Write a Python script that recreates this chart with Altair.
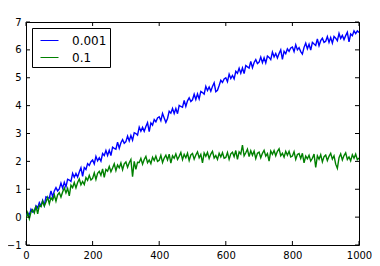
import altair as alt
import pandas as pd

steps = list(range(0, 1001, 5))

blue_vals = [
    0.02, 0.15, 0.08, 0.28, 0.18, 0.22, 0.41, 0.33, 0.52, 0.40,
    0.60, 0.42, 0.73, 0.70, 0.68, 0.94, 0.73, 0.94, 1.06, 0.94,
    1.01, 1.22, 1.04, 1.25, 1.08, 1.36, 1.33, 1.28, 1.57, 1.43,
    1.57, 1.44, 1.62, 1.77, 1.46, 1.78, 1.71, 1.92, 1.85, 1.99,
    2.05, 1.91, 2.18, 2.02, 2.13, 2.01, 2.28, 2.21, 2.39, 2.21,
    2.40, 2.21, 2.51, 2.47, 2.44, 2.69, 2.47, 2.67, 2.78, 2.65,
    2.71, 2.91, 2.73, 2.93, 2.76, 3.03, 3.00, 2.94, 3.23, 3.08,
    3.22, 3.08, 3.25, 3.39, 3.07, 3.38, 3.30, 3.50, 3.42, 3.56,
    3.60, 3.46, 3.72, 3.56, 3.40, 3.54, 3.80, 3.73, 3.90, 3.72,
    3.90, 3.71, 4.01, 3.97, 3.94, 4.19, 3.97, 4.17, 4.28, 4.15,
    4.21, 4.41, 4.22, 4.42, 4.24, 4.51, 4.47, 4.41, 4.69, 4.54,
    4.67, 4.52, 4.69, 4.82, 4.50, 4.55, 4.72, 4.91, 4.83, 4.96,
    5.00, 4.86, 5.13, 4.97, 5.08, 4.96, 5.23, 5.16, 5.34, 5.16,
    5.35, 5.15, 5.44, 5.39, 5.35, 5.59, 5.36, 5.55, 5.65, 5.51,
    5.56, 5.74, 5.54, 5.72, 5.53, 5.78, 5.73, 5.65, 5.92, 5.75,
    5.87, 5.71, 5.87, 6.00, 5.66, 5.95, 5.86, 6.04, 5.95, 6.07,
    6.10, 5.94, 6.18, 6.00, 6.08, 5.94, 5.85, 6.09, 6.24, 6.04,
    6.20, 5.99, 6.27, 6.21, 6.16, 6.39, 6.15, 6.33, 6.42, 6.27,
    6.31, 6.48, 6.27, 6.44, 6.24, 6.48, 6.42, 6.33, 6.59, 6.41,
    6.52, 6.37, 6.51, 6.63, 6.29, 6.57, 6.51, 6.68, 6.58, 6.68,
    6.62,
]

green_vals = [
    -0.06, 0.16, -0.06, 0.18, 0.27, 0.15, 0.40, 0.12, 0.42, 0.38,
    0.57, 0.40, 0.54, 0.71, 0.48, 0.70, 0.61, 0.80, 0.57, 0.80,
    0.88, 0.72, 0.90, 1.05, 0.87, 1.03, 0.76, 1.15, 1.06, 1.24,
    1.05, 1.24, 1.37, 1.16, 1.28, 1.17, 1.42, 1.32, 1.50, 1.33,
    1.39, 1.59, 1.35, 1.57, 1.64, 1.50, 1.73, 1.43, 1.71, 1.65,
    1.82, 1.63, 1.76, 1.91, 1.67, 1.87, 1.77, 1.94, 1.70, 1.91,
    1.98, 1.79, 1.95, 2.07, 1.45, 2.00, 1.71, 1.97, 1.96, 2.11,
    1.90, 2.07, 2.18, 1.95, 2.05, 1.92, 2.15, 2.03, 2.19, 2.00,
    2.04, 2.22, 1.96, 2.12, 2.22, 2.05, 2.26, 1.94, 2.20, 2.11,
    2.27, 2.07, 2.18, 2.32, 2.06, 2.25, 2.13, 2.29, 2.03, 2.23,
    2.28, 2.08, 2.23, 2.34, 2.13, 2.25, 1.95, 2.30, 2.18, 2.32,
    2.10, 2.26, 2.36, 2.12, 2.21, 2.07, 2.29, 2.16, 2.31, 2.11,
    2.14, 2.32, 2.07, 2.27, 2.33, 2.17, 2.39, 2.07, 2.34, 2.26,
    2.58, 2.20, 2.31, 2.44, 2.17, 2.38, 2.22, 2.37, 2.10, 2.29,
    2.33, 2.13, 2.29, 2.40, 2.19, 2.28, 2.01, 2.37, 2.25, 2.39,
    2.20, 2.36, 2.45, 2.20, 2.29, 2.15, 2.36, 2.22, 2.36, 2.16,
    2.19, 2.35, 2.07, 2.25, 2.28, 2.10, 2.29, 1.95, 2.19, 2.09,
    2.22, 2.01, 2.11, 2.26, 1.78, 2.20, 2.08, 2.24, 1.98, 2.17,
    2.23, 2.03, 2.18, 2.29, 2.08, 2.20, 1.90, 1.75, 2.13, 2.27,
    2.05, 2.21, 2.31, 2.07, 2.16, 2.02, 2.24, 2.11, 2.26, 2.06,
    2.12,
]

series_names = ["0.001", "0.1"]
series_colors = ["#0000ff", "#008000"]
x_ticks = [0, 200, 400, 600, 800, 1000]
y_ticks = [-1, 0, 1, 2, 3, 4, 5, 6, 7]

df = pd.DataFrame({
    "step": steps + steps,
    "value": blue_vals + green_vals,
    "series": [series_names[0]] * len(steps) + [series_names[1]] * len(steps),
})
xt = pd.DataFrame({"v": x_ticks})
yt = pd.DataFrame({"v": y_ticks})

W, H = 333, 223
xscale = alt.Scale(domain=[0, 1000], nice=False, zero=False)
yscale = alt.Scale(domain=[-1, 7], nice=False, zero=False)
xaxis = alt.Axis(values=x_ticks, title=None, format="d", labelPadding=5,
                 labelFlush=False, labelOverlap=False)
yaxis = alt.Axis(values=y_ticks, title=None, format="d", labelPadding=5,
                 labelFlush=False, labelOverlap=False)

lines = alt.Chart(df).mark_line(strokeWidth=1.4, clip=True).encode(
    x=alt.X("step:Q", scale=xscale, axis=xaxis, title=None),
    y=alt.Y("value:Q", scale=yscale, axis=yaxis, title=None),
    color=alt.Color("series:N",
                    scale=alt.Scale(domain=series_names, range=series_colors),
                    legend=alt.Legend(title=None, orient="none", legendX=6, legendY=6,
                                      symbolType="stroke", symbolSize=324,
                                      symbolStrokeWidth=1, labelFontSize=12,
                                      labelFont="DejaVu Sans", labelColor="black",
                                      labelOffset=13, symbolOffset=5,
                                      padding=3, rowPadding=1,
                                      strokeColor="black", fillColor="white",
                                      cornerRadius=0)),
)

tick_bottom = alt.Chart(xt).mark_rule(color="black", strokeWidth=1).encode(
    x=alt.X("v:Q", scale=xscale, axis=xaxis, title=None), y=alt.value(H), y2=alt.value(H - 4))
tick_top = alt.Chart(xt).mark_rule(color="black", strokeWidth=1).encode(
    x=alt.X("v:Q", scale=xscale, axis=xaxis, title=None), y=alt.value(0), y2=alt.value(4))
tick_left = alt.Chart(yt).mark_rule(color="black", strokeWidth=1).encode(
    y=alt.Y("v:Q", scale=yscale, axis=yaxis, title=None), x=alt.value(0), x2=alt.value(4))
tick_right = alt.Chart(yt).mark_rule(color="black", strokeWidth=1).encode(
    y=alt.Y("v:Q", scale=yscale, axis=yaxis, title=None), x=alt.value(W), x2=alt.value(W - 4))

chart = alt.layer(lines, tick_bottom, tick_top, tick_left, tick_right).properties(
    width=W, height=H,
    autosize=alt.AutoSizeParams(type="none"),
    padding={"left": 18, "top": 14, "right": 13, "bottom": 20},
    background="white",
).configure_view(
    stroke="black", strokeWidth=1,
).configure_axis(
    domain=False, ticks=False, grid=False,
    labelFont="DejaVu Sans", labelFontSize=10, labelColor="black",
)

chart.save("out.html", embed_options={"renderer": "svg", "actions": False})
